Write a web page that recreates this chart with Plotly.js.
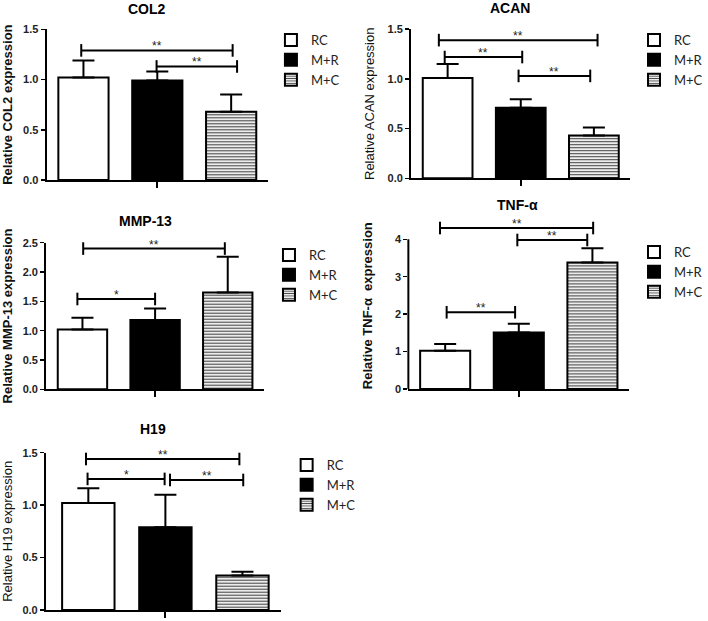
<!DOCTYPE html>
<html>
<head>
<meta charset="utf-8">
<script src="https://cdn.plot.ly/plotly-3.0.1.min.js"></script>
<style>
  body { margin: 0; background: white; }
  #chart { width: 708px; height: 621px; }
</style>
</head>
<body>
<div id="chart"></div>
<script>
// groups and genes
var groups = ['RC', 'M+R', 'M+C'];
var genes = ['COL2', 'ACAN', 'MMP-13', 'TNF-α', 'H19'];

// mean and upper error (SD)
var col2Mean = [1.02, 0.99, 0.68];
var col2Err = [0.17, 0.09, 0.17];
var acanMean = [1.01, 0.71, 0.43];
var acanErr = [0.14, 0.085, 0.08];
var mmpMean = [1.02, 1.18, 1.65];
var mmpErr = [0.20, 0.20, 0.61];
var tnfMean = [1.02, 1.51, 3.38];
var tnfErr = [0.18, 0.23, 0.38];
var h19Mean = [1.02, 0.79, 0.33];
var h19Err = [0.14, 0.31, 0.035];

// significance brackets: [left, right] in group index, height, stars
var col2Pairs = [[-0.03, 2.02], [0.99, 2.08]];
var col2PairY = [1.29, 1.13];
var col2Stars = ['**', '**'];
var acanPairs = [[-0.12, 2.05], [-0.04, 1.02], [0.97, 1.95]];
var acanPairY = [1.39, 1.22, 1.03];
var acanStars = ['**', '**', '**'];
var mmpPairs = [[0.01, 1.96], [-0.07, 1.0]];
var mmpPairY = [2.40, 1.54];
var mmpStars = ['**', '*'];
var tnfPairs = [[-0.07, 2.01], [0.98, 1.93], [0.02, 0.95]];
var tnfPairY = [4.30, 3.98, 2.05];
var tnfStars = ['**', '**', '**'];
var h19Pairs = [[-0.03, 1.96], [-0.01, 0.99], [1.06, 2.01]];
var h19PairY = [1.44, 1.25, 1.24];
var h19Stars = ['**', '*', '**'];

var W = 708, H = 621;
function dx(px) { return px / W; }
function dy(px) { return 1 - px / H; }

var panels = [
  {mean: col2Mean, err: col2Err, pairs: col2Pairs, pairY: col2PairY, stars: col2Stars,
   ytitle: 'Relative COL2 expression', bold: true,
   xpx: [47.4, 273.1], ypx: [29.3, 180], xr: [-0.5, 2.5], yr: [0, 1.5], dtick: 0.5, fmt: '.1f',
   titlePos: [150, 9], legPos: [296, 38]},
  {mean: acanMean, err: acanErr, pairs: acanPairs, pairY: acanPairY, stars: acanStars,
   ytitle: 'Relative ACAN expression', bold: false,
   xpx: [418.75, 642.25], ypx: [29.2, 178.3], xr: [-0.5, 2.5], yr: [0, 1.5], dtick: 0.5, fmt: '.1f',
   titlePos: [520, 8], legPos: [666, 38]},
  {mean: mmpMean, err: mmpErr, pairs: mmpPairs, pairY: mmpPairY, stars: mmpStars,
   ytitle: 'Relative MMP-13 expression', bold: true,
   xpx: [47, 269], ypx: [242.7, 389.3], xr: [-0.5, 2.5], yr: [0, 2.5], dtick: 0.5, fmt: '.1f',
   titlePos: [148, 221], legPos: [294, 253]},
  {mean: tnfMean, err: tnfErr, pairs: tnfPairs, pairY: tnfPairY, stars: tnfStars,
   ytitle: 'Relative TNF-α\u00a0 expression', bold: true,
   xpx: [416, 641], ypx: [222.4, 389], xr: [-0.5, 2.5], yr: [0, 4.45], dtick: 1, fmt: 'd', top: 4,
   titlePos: [527, 205], legPos: [666, 250]},
  {mean: h19Mean, err: h19Err, pairs: h19Pairs, pairY: h19PairY, stars: h19Stars,
   ytitle: 'Relative H19 expression', bold: false,
   xpx: [46.8, 286.25], ypx: [452.7, 610], xr: [-0.55, 2.5], yr: [0, 1.5], dtick: 0.5, fmt: '.1f',
   titlePos: [156, 429], legPos: [312, 463]}
];

var fam = 'Liberation Sans, Arial, sans-serif';
var data = [];
var layout = {
  width: W, height: H,
  margin: {l: 0, r: 0, t: 0, b: 0},
  paper_bgcolor: 'white',
  plot_bgcolor: 'white',
  barmode: 'overlay',
  annotations: [],
  shapes: []
};

panels.forEach(function (p, k) {
  var n = k + 1;
  var xa = 'x' + (n > 1 ? n : '');
  var ya = 'y' + (n > 1 ? n : '');
  var leg = 'legend' + (n > 1 ? n : '');

  // bars
  for (var j = 0; j < groups.length; j++) {
    var marker = {
      color: j == 1 ? 'black' : 'white',
      line: {color: 'black', width: 2}
    };
    if (j == 2) {
      marker.pattern = {shape: '-', fgcolor: '#444', bgcolor: 'white', size: 3, solidity: 0.4};
    }
    data.push({
      type: 'bar',
      x: [j], y: [p.mean[j]],
      width: 0.68,
      name: groups[j],
      marker: marker,
      error_y: {type: 'data', symmetric: false, array: [p.err[j]], arrayminus: [0],
                color: 'black', thickness: 2, width: 11},
      xaxis: xa, yaxis: ya,
      legend: leg,
      hoverinfo: 'y'
    });
  }

  // brackets
  for (var b = 0; b < p.pairs.length; b++) {
    data.push({
      type: 'scatter',
      mode: 'lines+markers',
      x: p.pairs[b], y: [p.pairY[b], p.pairY[b]],
      line: {color: 'black', width: 2},
      marker: {symbol: 'line-ns-open', size: 9, line: {color: 'black', width: 2}},
      xaxis: xa, yaxis: ya,
      showlegend: false,
      hoverinfo: 'skip',
      cliponaxis: false
    });
    layout.annotations.push({
      xref: xa, yref: ya,
      x: (p.pairs[b][0] + p.pairs[b][1]) / 2, y: p.pairY[b],
      text: p.stars[b], showarrow: false,
      yanchor: 'middle', yshift: 4,
      font: {family: fam, size: 12, color: '#222'}
    });
  }

  // gene titles
  layout.annotations.push({
    xref: 'paper', yref: 'paper',
    x: dx(p.titlePos[0]), y: dy(p.titlePos[1]),
    text: genes[k], showarrow: false,
    xanchor: 'center', yanchor: 'middle',
    font: {family: fam, size: 14, weight: 'bold', color: 'black'}
  });

  var tv = [];
  var top = p.top || p.yr[1];
  for (var t = 0; t <= top + 1e-9; t += p.dtick) tv.push(Math.round(t * 10) / 10);

  layout['xaxis' + (n > 1 ? n : '')] = {
    domain: [dx(p.xpx[0]), dx(p.xpx[1])],
    range: p.xr,
    anchor: ya,
    showline: true, linecolor: 'black', linewidth: 2,
    ticks: 'outside', ticklen: 6, tickwidth: 2, tickcolor: 'black',
    tickvals: [1], ticktext: [''],
    showgrid: false, zeroline: false, fixedrange: true
  };
  layout['yaxis' + (n > 1 ? n : '')] = {
    domain: [dy(p.ypx[1]), dy(p.ypx[0])],
    range: p.yr,
    anchor: xa,
    showline: !p.top, linecolor: 'black', linewidth: 2,
    ticks: 'outside', ticklen: 4, tickwidth: 1.5, tickcolor: 'black',
    tickvals: tv, tickformat: p.fmt,
    tickfont: {family: fam, size: 11, weight: 'bold', color: '#222'},
    title: {text: p.ytitle, font: {family: fam, size: 13, weight: p.bold ? 'bold' : 'normal', color: '#111'}},
    showgrid: false, zeroline: false, fixedrange: true
  };

  // y axis line stops at the top tick when brackets run above it
  if (p.top) {
    layout.shapes.push({
      type: 'line', xref: xa + ' domain', yref: ya,
      x0: 0, x1: 0, y0: 0, y1: p.top,
      line: {color: 'black', width: 2}
    });
  }

  layout[leg] = {
    x: dx(p.legPos[0] - 20), y: dy(p.legPos[1] - 13),
    xanchor: 'left', yanchor: 'top',
    bgcolor: 'rgba(0,0,0,0)',
    font: {family: 'Lato, sans-serif', size: 13, color: '#222'},
    tracegroupgap: 0
  };
});

Plotly.newPlot('chart', data, layout, {displayModeBar: false, staticPlot: true});
</script>
</body>
</html>
